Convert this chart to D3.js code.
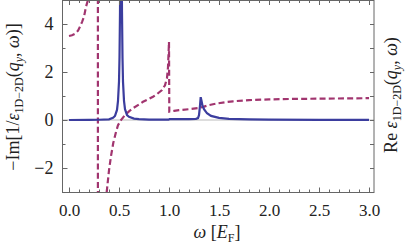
<!DOCTYPE html>
<html><head><meta charset="utf-8">
<script src="https://cdn.jsdelivr.net/npm/d3@7"></script>
<style>body{margin:0;background:#fff}svg{display:block}</style>
</head><body>
<svg id="c" width="407" height="247"></svg>
<script>
// -Im[1/eps] (solid blue)
const lossW = [0,0.2,0.3,0.4,0.44,0.46,0.48,0.49,0.50,0.505,0.51,0.515,0.52,0.525,0.53,0.535,0.54,0.55,0.56,0.58,0.6,0.65,0.7,0.8,0.9,0.995,1.005,1.1,1.2,1.27,1.29,1.3,1.31,1.317,1.325,1.335,1.35,1.38,1.42,1.5,1.6,1.8,2.0,2.5,3.0];
const lossV = [0.0,0.005,0.01,0.03,0.09,0.17,0.42,0.8,1.6,2.6,4.5,8,12,8,4.5,2.6,1.6,0.8,0.45,0.2,0.13,0.06,0.04,0.02,0.015,0.015,0.035,0.035,0.04,0.05,0.08,0.2,0.6,0.95,0.8,0.6,0.45,0.28,0.17,0.09,0.05,0.025,0.015,0.008,0.005];
// Re eps (dashed magenta)
const reW = [0,0.03,0.063,0.09,0.11,0.13,0.15,0.17,0.19,0.21,0.23,0.25,0.27,0.28,0.286,0.288,0.29,0.30,0.32,0.34,0.36,0.377,0.40,0.42,0.443,0.47,0.49,0.52,0.56,0.6,0.64,0.7,0.74,0.8,0.84,0.88,0.93,0.96,0.98,0.99,1.0,1.003,1.05,1.1,1.2,1.3,1.35,1.4,1.48,1.56,1.64,1.8,2.0,2.2,2.5,2.8,3.0];
const reV = [3.5,3.53,3.6,3.72,3.89,4.08,4.3,4.72,5.0,5.6,6.5,8,12,18,40,200,-200,-40,-14,-7,-4.3,-3.0,-2.1,-1.5,-0.95,-0.5,-0.22,0.0,0.21,0.36,0.49,0.65,0.76,0.88,0.97,1.08,1.25,1.45,1.75,2.2,3.25,0.35,0.38,0.41,0.45,0.5,0.56,0.62,0.69,0.74,0.78,0.83,0.86,0.875,0.89,0.9,0.91];
const xMajor = [0,0.5,1.0,1.5,2.0,2.5,3.0];
const xLabels = ["0.0","0.5","1.0","1.5","2.0","2.5","3.0"];
const yMajor = [-2,0,2,4];
const yLabels = ["\u22122","0","2","4"];

const FONT = "Liberation Serif";
const svg = d3.select("#c");
const L=62.5,R=374,T=0,B=192.5;
const x = d3.scaleLinear().domain([-0.065,3.05]).range([L,R]);
const y = d3.scaleLinear().domain([-3.02,5]).range([B,T]);

svg.append("clipPath").attr("id","clip").append("rect").attr("x",L).attr("y",T).attr("width",R-L).attr("height",B-T);

// zero line
svg.append("line").attr("x1",L).attr("x2",R).attr("y1",y(0)).attr("y2",y(0)).attr("stroke","#bbb").attr("stroke-width",1);

const g = svg.append("g").attr("clip-path","url(#clip)");
const line = d3.line().x(d=>x(d[0])).y(d=>y(d[1]));
g.append("path").datum(reW.map((w,i)=>[w,reV[i]])).attr("d",line).attr("fill","none")
 .attr("stroke","#a1356f").attr("stroke-width",2.2).attr("stroke-dasharray","6,3.2");
g.append("path").datum(lossW.map((w,i)=>[w,lossV[i]])).attr("d",line).attr("fill","none")
 .attr("stroke","#3b3d9e").attr("stroke-width",2.2);

// frame
svg.append("rect").attr("x",L).attr("y",T+0.5).attr("width",R-L).attr("height",B-T-0.5).attr("fill","none").attr("stroke","#666").attr("stroke-width",1);

function styleTicks(s){ s.select(".domain").remove(); s.selectAll("line").attr("stroke","#666"); }
// x ticks
const xMinor = d3.range(0,3.01,0.1).map(v=>+v.toFixed(2)).filter(v=>!xMajor.some(m=>Math.abs(m-v)<1e-6));
const axg = svg.append("g").attr("transform",`translate(0,${B})`)
 .call(d3.axisBottom(x).tickValues(xMajor).tickFormat((d,i)=>xLabels[i]).tickSizeInner(-5).tickSizeOuter(0).tickPadding(11));
styleTicks(axg);
axg.attr("font-family",FONT).attr("font-size",17);
axg.selectAll("text").attr("fill","#222").attr("font-family",FONT).attr("font-size",17);
svg.append("g").attr("transform",`translate(0,${B})`).call(d3.axisBottom(x).tickValues(xMinor).tickFormat("").tickSizeInner(-3).tickSizeOuter(0)).call(styleTicks);
svg.append("g").attr("transform",`translate(0,${T})`).call(d3.axisTop(x).tickValues(xMajor).tickFormat("").tickSizeInner(-5).tickSizeOuter(0)).call(styleTicks);
svg.append("g").attr("transform",`translate(0,${T})`).call(d3.axisTop(x).tickValues(xMinor).tickFormat("").tickSizeInner(-3).tickSizeOuter(0)).call(styleTicks);

// y ticks
const yMinor = [-3,-1,1,3,5];
const ayg = svg.append("g").attr("transform",`translate(${L},0)`)
 .call(d3.axisLeft(y).tickValues(yMajor).tickFormat((d,i)=>yLabels[i]).tickSizeInner(-5).tickSizeOuter(0).tickPadding(9));
styleTicks(ayg);
ayg.attr("font-family",FONT).attr("font-size",18);
ayg.selectAll("text").attr("fill","#222").attr("font-family",FONT).attr("font-size",18);
svg.append("g").attr("transform",`translate(${L},0)`).call(d3.axisLeft(y).tickValues(yMinor).tickFormat("").tickSizeInner(-3).tickSizeOuter(0)).call(styleTicks);
svg.append("g").attr("transform",`translate(${R},0)`).call(d3.axisRight(y).tickValues(yMajor.concat(yMinor)).tickFormat("").tickSizeInner(-4).tickSizeOuter(0)).call(styleTicks);

// x label
const xl = svg.append("text").attr("x",217).attr("y",238).attr("text-anchor","middle")
 .attr("font-family",FONT).attr("font-size",18).attr("fill","#222");
xl.append("tspan").attr("font-style","italic").text("\u03c9");
xl.append("tspan").text(" [");
xl.append("tspan").attr("font-style","italic").text("E");
xl.append("tspan").attr("baseline-shift","-4").attr("font-size",12).text("F");
xl.append("tspan").text("]");

function epsLabel(t, prefix, suffix){
  t.append("tspan").text(prefix);
  t.append("tspan").attr("font-style","italic").text("\u03b5");
  t.append("tspan").attr("baseline-shift","-4").attr("font-size",12).text("1D\u22122D");
  t.append("tspan").text("(");
  t.append("tspan").attr("font-style","italic").text("q");
  t.append("tspan").attr("baseline-shift","-4").attr("font-size",12).attr("font-style","italic").text("y");
  t.append("tspan").text(", ");
  t.append("tspan").attr("font-style","italic").text("\u03c9");
  t.append("tspan").text(")"+suffix);
}
const yl = svg.append("text").attr("transform","translate(19,97) rotate(-90)").attr("text-anchor","middle")
 .attr("font-family",FONT).attr("font-size",18).attr("fill","#222");
epsLabel(yl,"\u2212Im[1/","]");
const yr = svg.append("text").attr("transform","translate(397,95) rotate(-90)").attr("text-anchor","middle")
 .attr("font-family",FONT).attr("font-size",18).attr("fill","#222");
epsLabel(yr,"Re ","");
</script>
</body></html>
